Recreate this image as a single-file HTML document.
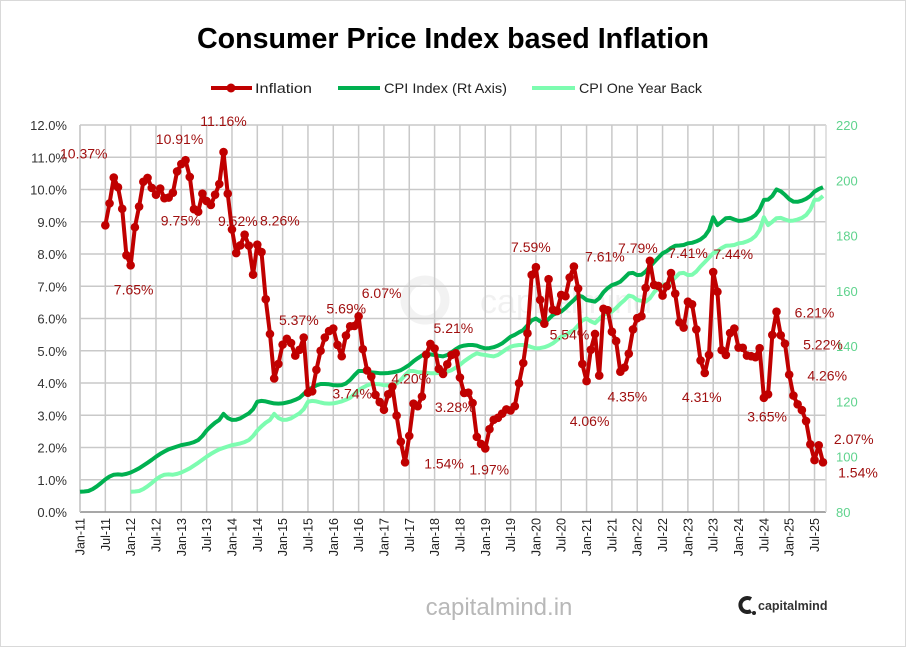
<!DOCTYPE html>
<html><head><meta charset="utf-8"><style>
html,body{margin:0;padding:0;background:#fff}
svg{display:block;font-family:"Liberation Sans",sans-serif}
</style></head><body>
<svg id="chart" width="906" height="647" viewBox="0 0 906 647">
<rect x="0.5" y="0.5" width="905" height="646" fill="#fff" stroke="#d9d9d9"/>
<text x="453" y="48" text-anchor="middle" font-size="29" font-weight="bold" textLength="512" lengthAdjust="spacingAndGlyphs" fill="#000">Consumer Price Index based Inflation</text>
<g>
 <g>
  <line x1="211" y1="88" x2="252" y2="88" stroke="#c00000" stroke-width="4"/>
  <circle cx="231" cy="88" r="4.5" fill="#c00000"/>
  <text x="255" y="93" font-size="14" fill="#222" textLength="57" lengthAdjust="spacingAndGlyphs">Inflation</text>
 </g>
 <g>
  <line x1="338" y1="88" x2="380" y2="88" stroke="#00b050" stroke-width="4"/>
  <text x="384" y="93" font-size="14" fill="#222" textLength="123" lengthAdjust="spacingAndGlyphs">CPI Index (Rt Axis)</text>
 </g>
 <g>
  <line x1="532" y1="88" x2="575" y2="88" stroke="#7dfcb0" stroke-width="4"/>
  <text x="579" y="93" font-size="14" fill="#222" textLength="123" lengthAdjust="spacingAndGlyphs">CPI One Year Back</text>
 </g>
</g>
<text x="480" y="313" font-size="34" fill="#000" opacity="0.05">capitalmind</text>
<circle cx="425" cy="300" r="20" fill="none" stroke="#000" stroke-width="9" opacity="0.05"/>
<g id="grid"></g>
<g id="axes"></g>
<g id="series"></g>
<g id="labels"></g>
<text x="499" y="615" text-anchor="middle" font-size="24" fill="#b8b8b8">capitalmind.in</text>
<g>
 <path d="M751 599 A7 7 0 1 0 751 611" fill="none" stroke="#222" stroke-width="4"/>
 <circle cx="754" cy="613" r="2" fill="#222"/>
 <text x="758" y="610" font-size="12.5" font-weight="bold" fill="#333">capitalmind</text>
</g>
</svg>
<script>
const monthNames=["Jan","Feb","Mar","Apr","May","Jun","Jul","Aug","Sep","Oct","Nov","Dec"];
const startYear=2011;
const cpiIndex=[
87.3,87.4,87.6,88.3,89.3,90.5,91.8,92.8,93.5,93.6,93.5,93.8,
94.3,95.0,95.8,96.8,97.8,98.9,100.0,101.0,101.9,102.7,103.2,103.7,
104.2,104.5,104.8,105.3,106.0,107.5,109.5,111.0,112.3,113.3,115.5,114.0,
113.3,113.4,113.9,114.8,115.7,117.2,119.9,120.2,120.0,119.6,119.3,119.2,
119.3,119.6,120.0,120.6,121.3,122.7,124.1,125.0,125.8,126.3,126.3,126.2,
125.9,125.8,125.9,126.5,127.8,129.5,131.0,131.0,130.6,130.5,130.4,130.2,
130.2,130.3,130.5,130.8,131.3,132.2,133.2,134.5,135.6,136.6,137.4,137.0,
136.8,136.5,136.3,136.8,137.8,138.9,139.8,140.2,140.4,140.4,140.2,139.6,
139.2,139.3,139.6,140.2,141.0,142.2,143.4,144.1,145.0,145.8,147.5,149.3,
150.0,149.0,148.3,149.8,151.3,152.0,152.5,153.8,155.3,156.7,158.3,157.9,
156.7,156.4,156.1,157.3,159.5,161.0,162.1,162.6,163.3,164.8,166.3,166.5,
165.7,165.8,167.0,168.8,170.4,172.0,173.6,174.4,175.5,176.3,176.4,176.6,
177.2,177.4,177.9,178.6,179.8,182.0,186.6,183.8,185.0,186.3,186.4,185.8,
185.3,185.4,185.8,186.4,187.4,189.4,192.9,193.0,194.3,196.7,196.0,194.7,
193.2,192.3,192.2,192.6,193.3,194.3,195.9,196.8,197.5];
const cpiOneYearBack=[
null,null,null,null,null,null,null,null,null,null,null,null,
87.3,87.4,87.6,88.3,89.3,90.5,91.8,92.8,93.5,93.6,93.5,93.8,
94.3,95.0,95.8,96.8,97.8,98.9,100.0,101.0,101.9,102.7,103.2,103.7,
104.2,104.5,104.8,105.3,106.0,107.5,109.5,111.0,112.3,113.3,115.5,114.0,
113.3,113.4,113.9,114.8,115.7,117.2,119.9,120.2,120.0,119.6,119.3,119.2,
119.3,119.6,120.0,120.6,121.3,122.7,124.1,125.0,125.8,126.3,126.3,126.2,
125.9,125.8,125.9,126.5,127.8,129.5,131.0,131.0,130.6,130.5,130.4,130.2,
130.2,130.3,130.5,130.8,131.3,132.2,133.2,134.5,135.6,136.6,137.4,137.0,
136.8,136.5,136.3,136.8,137.8,138.9,139.8,140.2,140.4,140.4,140.2,139.6,
139.2,139.3,139.6,140.2,141.0,142.2,143.4,144.1,145.0,145.8,147.5,149.3,
150.0,149.0,148.3,149.8,151.3,152.0,152.5,153.8,155.3,156.7,158.3,157.9,
156.7,156.4,156.1,157.3,159.5,161.0,162.1,162.6,163.3,164.8,166.3,166.5,
165.7,165.8,167.0,168.8,170.4,172.0,173.6,174.4,175.5,176.3,176.4,176.6,
177.2,177.4,177.9,178.6,179.8,182.0,186.6,183.8,185.0,186.3,186.4,185.8,
185.3,185.4,185.8,186.4,187.4,189.4,192.9,193.0,194.3];
const inflation=[
null,null,null,null,null,null,8.89,9.57,10.37,10.07,9.40,7.96,
7.65,8.83,9.47,10.24,10.36,10.05,9.84,10.03,9.73,9.75,9.90,10.56,
10.79,10.91,10.39,9.39,9.31,9.87,9.64,9.52,9.84,10.17,11.16,9.87,
8.76,8.03,8.27,8.60,8.26,7.36,8.29,8.06,6.60,5.52,4.14,4.59,
5.19,5.37,5.24,4.85,5.03,5.41,3.70,3.74,4.41,5.00,5.41,5.61,
5.69,5.18,4.83,5.47,5.76,5.77,6.07,5.05,4.39,4.20,3.63,3.41,
3.17,3.65,3.89,2.99,2.18,1.54,2.36,3.36,3.28,3.58,4.88,5.21,
5.07,4.44,4.28,4.58,4.87,4.92,4.17,3.69,3.70,3.38,2.33,2.11,
1.97,2.57,2.86,2.92,3.05,3.18,3.15,3.28,3.99,4.62,5.54,7.35,
7.59,6.58,5.84,7.22,6.27,6.23,6.73,6.69,7.27,7.61,6.93,4.59,
4.06,5.03,5.52,4.23,6.30,6.26,5.59,5.30,4.35,4.48,4.91,5.66,
6.01,6.07,6.95,7.79,7.04,7.01,6.71,7.00,7.41,6.77,5.88,5.72,
6.52,6.44,5.66,4.70,4.31,4.87,7.44,6.83,5.02,4.87,5.55,5.69,
5.10,5.09,4.85,4.83,4.80,5.08,3.54,3.65,5.49,6.21,5.48,5.22,
4.26,3.61,3.34,3.16,2.82,2.10,1.61,2.07,1.54];
const leftTicks=[0,1,2,3,4,5,6,7,8,9,10,11,12];
const rightTicks=[80,100,120,140,160,180,200,220];
const labelledMonths=[8,12,25,34,21,31,40,49,60,66,55,69,77,83,80,96,108,106,120,117,128,135,140,150,148,163,165,167,168,175,176];
const labelOffsets=[[-30,-24],[3,24],[-6,-21],[0,-31],[12,23],[27,16],[31,-25],[12,-19],[13,-20],[23,-23],[40,2],[40,2],[39,1],[23,-16],[37,1],[4,21],[-5,-20],[42,1],[3,40],[31,-10],[7,25],[-12,-13],[17,-20],[20,-18],[-3,24],[-1,22],[38,1],[38,1],[38,1],[35,-6],[35,10]];

const NS="http://www.w3.org/2000/svg";
const PL=80,PR=826,PT=125,PB=512;
const NM=177;
const xScale=i=>PL+i*4.2214;
const yL=v=>PB-(v/12)*(PB-PT);
const yR=v=>PB-((v-80)/140)*(PB-PT);
function mk(tag,attrs,parent){const e=document.createElementNS(NS,tag);for(const k in attrs)e.setAttribute(k,attrs[k]);parent.appendChild(e);return e;}
const grid=document.getElementById('grid'),axes=document.getElementById('axes'),series=document.getElementById('series'),labels=document.getElementById('labels');

leftTicks.forEach(t=>{
 if(t>0){const l=mk('line',{x1:PL,x2:PR,y1:yL(t),y2:yL(t),stroke:'#c9c9c9','stroke-width':1.5},grid);
 
 }
 const tx=mk('text',{x:67,y:yL(t)+5,'text-anchor':'end','font-size':13,fill:'#333'},axes);
 tx.textContent=t.toFixed(1)+'%';
 
 
});
rightTicks.forEach(t=>{
 const tx=mk('text',{x:836,y:yR(t)+5,'font-size':13,fill:'#5fd38d'},axes);
 tx.textContent=t;
 
 
});
for(let i=0;i<NM;i+=6){
 const x=xScale(i);
 const l=mk('line',{x1:x,x2:x,y1:PT,y2:PB,stroke:'#c9c9c9','stroke-width':1.5},grid);
 
 
 const lab=monthNames[i%12]+'-'+String((startYear+Math.floor(i/12))%100).padStart(2,'0');
 const tx=mk('text',{x:0,y:0,'text-anchor':'end','font-size':12.5,fill:'#222',transform:`translate(${x+4.5},518) rotate(-90)`},axes);
 tx.textContent=lab;
 
 
}
const ax=mk('line',{x1:PL,x2:PR,y1:PB,y2:PB,stroke:'#8a8a8a','stroke-width':1.5},axes);


const ayl=mk('line',{x1:PL,x2:PL,y1:PT,y2:PB,stroke:'#c9c9c9','stroke-width':1.5},axes);


const ayr=mk('line',{x1:PR,x2:PR,y1:PT,y2:PB,stroke:'#d9d9d9','stroke-width':1.5},axes);



function pathOf(arr,yf){let d='',pen=false;arr.forEach((v,i)=>{if(v==null){pen=false;return;}d+=(pen?'L':'M')+xScale(i).toFixed(1)+' '+yf(v).toFixed(1);pen=true;});return d;}
const p1=mk('path',{d:pathOf(cpiOneYearBack,yR),fill:'none',stroke:'#7dfcb0','stroke-width':4,'stroke-linejoin':'round'},series);


const p2=mk('path',{d:pathOf(cpiIndex,yR),fill:'none',stroke:'#00b050','stroke-width':4,'stroke-linejoin':'round'},series);


const p3=mk('path',{d:pathOf(inflation,yL),fill:'none',stroke:'#c00000','stroke-width':4,'stroke-linejoin':'round'},series);


inflation.forEach((v,i)=>{if(v==null)return;
 const c=mk('circle',{cx:xScale(i),cy:yL(v),r:4.3,fill:'#c00000'},series);
 
 
});
labelledMonths.forEach((m,k)=>{
 const v=inflation[m];if(v==null)return;
 const o=labelOffsets[k];
 const t=mk('text',{x:xScale(m)+o[0],y:yL(v)+o[1]+5,'text-anchor':'middle','font-size':14,fill:'#a01010'},labels);
 t.textContent=v.toFixed(2)+'%';
 
 
});
</script>
</body></html>
